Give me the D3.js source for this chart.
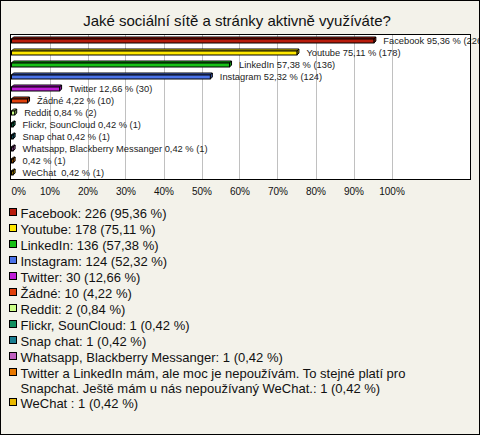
<!DOCTYPE html>
<html><head><meta charset="utf-8">
<script src="https://cdn.jsdelivr.net/npm/d3@7"></script>
<style>html,body{margin:0;padding:0;background:#fff;}svg{display:block;}text{white-space:pre;}</style>
</head><body>
<svg id="chart" width="480" height="435"></svg>
<script>
const title = "Jaké sociální sítě a stránky aktivně využíváte?";
const barNames = ["Facebook","Youtube","LinkedIn","Instagram","Twitter","Žádné","Reddit","Flickr, SounCloud","Snap chat","Whatsapp, Blackberry Messanger","","WeChat "];
const legendNames = ["Facebook","Youtube","LinkedIn","Instagram","Twitter","Žádné","Reddit","Flickr, SounCloud","Snap chat","Whatsapp, Blackberry Messanger",
  "Twitter a LinkedIn mám, ale moc je nepoužívám. To stejné platí pro|Snapchat. Ještě mám u nás nepoužívaný WeChat.","WeChat "];
const counts = [226,178,136,124,30,10,2,1,1,1,1,1];
const percents = [95.36,75.11,57.38,52.32,12.66,4.22,0.84,0.42,0.42,0.42,0.42,0.42];
const colors = ["#b81c0c","#ffe800","#16c016","#4a72e8","#c01dd8","#e0400c","#ccff88","#109060","#1a7d90","#c060c0","#e87800","#e8b800"];
const tickValues = [0,10,20,30,40,50,60,70,80,90,100];

const fmt = v => v.toFixed(2).replace(".", ",");
const svg = d3.select("#chart");
const W = 480, H = 435;
const font = "Liberation Sans, Arial, sans-serif";

svg.append("rect").attr("x",0.5).attr("y",0.5).attr("width",W-1).attr("height",H-1)
  .attr("fill","#f3f2ea").attr("stroke","#000");

svg.append("text").attr("x",237).attr("y",26).attr("text-anchor","middle")
  .attr("font-family",font).attr("font-size",15).attr("fill","#111").text(title);

const plot = {l:10.5, t:34.5, r:470.5, b:179.5};
const x = d3.scaleLinear().domain([0,100]).range([11.5,391.5]);
const y = d3.scaleBand().domain(d3.range(barNames.length)).range([35,179]);

svg.append("rect").attr("x",plot.l).attr("y",plot.t).attr("width",plot.r-plot.l).attr("height",plot.b-plot.t)
  .attr("fill","#fff");

svg.append("g").selectAll("line").data(tickValues.filter(d=>d>0)).join("line")
  .attr("x1",d=>Math.round(x(d))+0.5).attr("x2",d=>Math.round(x(d))+0.5)
  .attr("y1",plot.t).attr("y2",plot.b).attr("stroke","#c0c0c0");

svg.append("clipPath").attr("id","clipL").append("rect").attr("x",1).attr("y",1).attr("width",W-2).attr("height",H-2);

const bars = svg.append("g");
const dx = 2, dy = 2, fh = 4;
barNames.forEach((n,i) => {
  const c = y(i) + y.bandwidth()/2 - 0.5;
  const x0 = x(0), x1 = x(percents[i]);
  const top = c - 1.5;
  const g = bars.append("g");
  g.append("path").attr("d",`M${x0},${top} L${x0+dx},${top-dy} L${x1+dx},${top-dy} L${x1},${top} Z`)
    .attr("fill",colors[i]).attr("stroke","#000").attr("stroke-width",1).attr("stroke-linejoin","round");
  g.append("path").attr("d",`M${x1},${top} L${x1+dx},${top-dy} L${x1+dx},${top-dy+fh} L${x1},${top+fh} Z`)
    .attr("fill",d3.color(colors[i]).darker(0.6)).attr("stroke","#000").attr("stroke-width",1).attr("stroke-linejoin","round");
  g.append("rect").attr("x",x0).attr("y",top).attr("width",Math.max(0,x1-x0)).attr("height",fh)
    .attr("fill",colors[i]).attr("stroke","#000").attr("stroke-width",1);
  svg.append("text").attr("clip-path","url(#clipL)")
    .attr("x",x1+9.5).attr("y",c+0.5).attr("dy","0.35em")
    .attr("font-family",font).attr("font-size",9.3).attr("fill","#222")
    .text(`${n ? n + " " : ""}${fmt(percents[i])} % (${counts[i]})`);
});

svg.append("rect").attr("x",plot.l).attr("y",plot.t).attr("width",plot.r-plot.l).attr("height",plot.b-plot.t)
  .attr("fill","none").attr("stroke","#000");

const axis = d3.axisBottom(x).tickValues(tickValues).tickFormat(d=>d+"%").tickSize(0).tickPadding(0);
const ag = svg.append("g").attr("transform","translate(0,188)").call(axis);
ag.select(".domain").remove();
ag.selectAll("text").attr("font-family",font).attr("font-size",10).attr("fill","#111").attr("dy","0.71em")
  .attr("text-anchor",d=>d===0?"start":"middle").attr("x",d=>d===0?-0.5:0);

const leg = svg.append("g");
let ly = 213;
legendNames.forEach((n,i) => {
  const lines = n.split("|");
  lines[lines.length-1] += `: ${counts[i]} (${fmt(percents[i])} %)`;
  leg.append("rect").attr("x",9.5).attr("y",ly-4.5).attr("width",7).attr("height",7)
    .attr("fill",colors[i]).attr("stroke","#000");
  lines.forEach((t,k) => {
    leg.append("text").attr("x",20.5).attr("y",ly + k*15).attr("dy","0.35em")
      .attr("font-family",font).attr("font-size",13).attr("fill","#111").text(t);
  });
  ly += 16 + (lines.length-1)*14;
});
</script>
</body></html>
